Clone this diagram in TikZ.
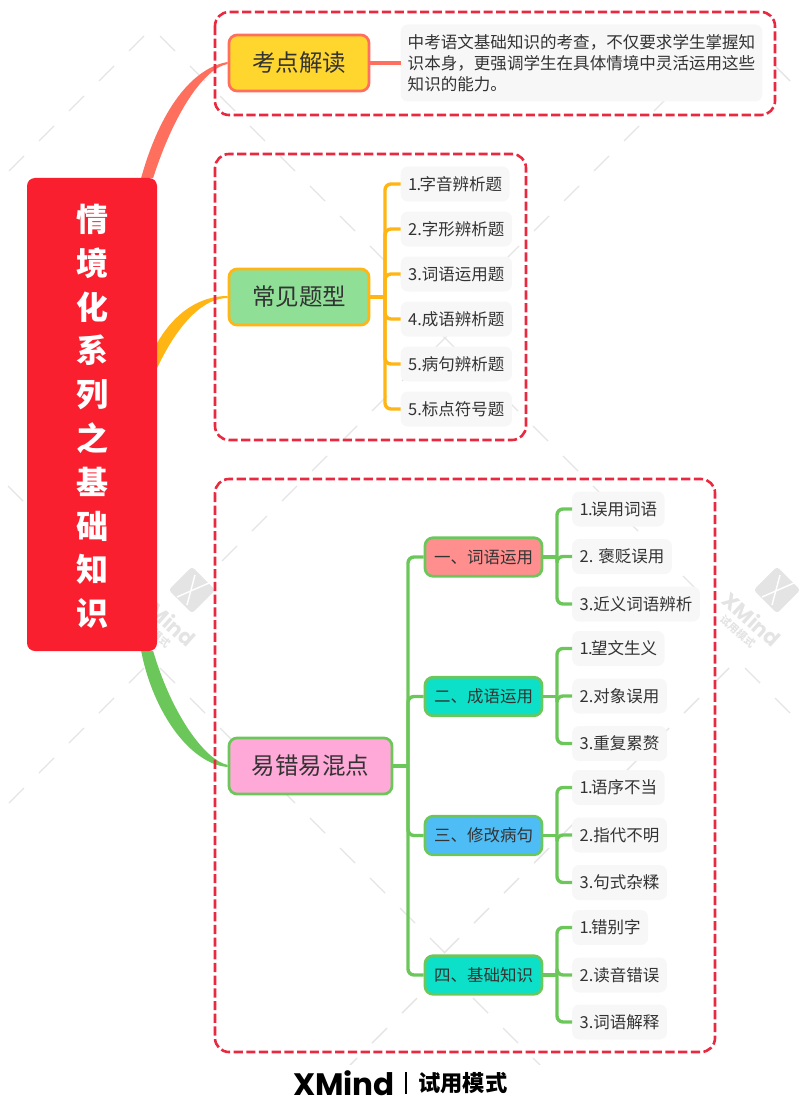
\documentclass[tikz,border=0pt]{standalone}
\usepackage{fontspec}
\setmainfont{Noto Sans CJK SC}
\newfontfamily\logofont{Poppins}
\usetikzlibrary{backgrounds,calc}
\definecolor{coralc}{HTML}{FF6F5E}
\definecolor{orangec}{HTML}{FFB514}
\definecolor{greenc}{HTML}{6CC75A}
\definecolor{framec}{HTML}{E9293F}
\definecolor{rootc}{HTML}{F91F2E}
\definecolor{inkc}{HTML}{333333}
\definecolor{wmc}{HTML}{E4E4E4}
\definecolor{leafc}{HTML}{F7F7F7}
\definecolor{yellowc}{HTML}{FFD62E}
\definecolor{mintc}{HTML}{8FDF97}
\definecolor{pinkc}{HTML}{FFA9D8}
\definecolor{salmonc}{HTML}{FF8E8E}
\definecolor{tealc}{HTML}{0CE0C8}
\definecolor{bluec}{HTML}{4FBDF5}
\newcommand{\onedot}{1\kern-0.8pt.\kern-1.6pt}
\tikzset{
  x=1pt,y=-1pt,
  wmline/.style={draw=wmc,line width=1.4pt},
  frameline/.style={draw=framec,line width=2.6pt,rounded corners=14pt,dash pattern=on 9.2pt off 3.5pt},
  mainnode/.style={rounded corners=8pt,line width=2.7pt,minimum height=56pt,text=inkc,font=\fontsize{23.5}{28}\selectfont,inner sep=0pt},
  subnode/.style={draw=greenc,rounded corners=8pt,line width=2.7pt,minimum width=117pt,minimum height=38.5pt,text=inkc,font=\fontsize{16.5}{20}\selectfont,inner sep=0pt},
  leafnode/.style={fill=leafc,rounded corners=7pt,minimum height=35pt,anchor=west,inner xsep=7.5pt,inner ysep=0pt,text=inkc,font=\fontsize{16.5}{20}\selectfont},
  orangelink/.style={draw=orangec,line width=3.4pt,rounded corners=6pt},
  greenlink/.style={draw=greenc,line width=3.4pt,rounded corners=6pt},
  coralink/.style={draw=coralc,line width=3.4pt},
}
\newcommand{\wmarm}[6]{% apex x, apex y, dir x, dir y, first offset, count
  \foreach \k in {1,...,#6}{
    \draw[wmline] ({#1+#3*(#5+30*(\k-1))},{#2+#4*(#5+30*(\k-1))}) -- ++({#3*15},{#4*15});
  }}
\newcommand{\wmlogo}[2]{%
  \node[fill=wmc,rounded corners=3pt,rotate=45,minimum size=33pt,inner sep=0pt] at (#1,#2) {};
  \draw[white,line width=1.4pt] (#1-15,#2+7) -- (#1+17,#2-7);
  \draw[white,line width=1.4pt] (#1+3,#2-15) -- (#1-5,#2+15);
  \node[text=wmc,rotate=-42,font=\logofont\bfseries\fontsize{21}{24}\selectfont,inner sep=0pt] at (#1-25,#2+29) {XMind};
  \node[text=wmc,rotate=-42,font=\bfseries\fontsize{10.5}{12}\selectfont,inner sep=0pt] at (#1-39,#2+42) {试用模式};
}
\begin{document}
\begin{tikzpicture}
\useasboundingbox (0,0) rectangle (800,1110);
% root
\node[fill=rootc,rounded corners=8pt,minimum width=130pt,minimum height=473pt,inner sep=0pt,text=white,align=center,font=\bfseries\fontsize{32}{43.8}\selectfont] (root) at (92,414.5) {\rule{0pt}{31pt}情\\境\\化\\系\\列\\之\\基\\础\\知\\识};
% main topics
\node[mainnode,draw=coralc,fill=yellowc,minimum width=140pt] (t1) at (299,63) {考点解读};
\node[mainnode,draw=orangec,fill=mintc,minimum width=140pt] (t2) at (299,297) {常见题型};
\node[mainnode,draw=greenc,fill=pinkc,minimum width=163pt] (t3) at (310.5,766) {易错易混点};
% topic 1 text
\node[fill=leafc,rounded corners=7pt,anchor=west,minimum width=360pt,minimum height=77pt,inner xsep=7pt,inner ysep=0pt,text=inkc,align=left,font=\fontsize{16.55}{21}\selectfont] (l0) at (400.5,63) {中考语文基础知识的考查，不仅要求学生掌握知\\识本身，更强调学生在具体情境中灵活运用这些\\知识的能力。};
% topic 2 leaves
\node[leafnode] (a1) at (400.5,184) {\onedot 字音辨析题};
\node[leafnode] (a2) at (400.5,229) {2.字形辨析题};
\node[leafnode] (a3) at (400.5,274) {3.词语运用题};
\node[leafnode] (a4) at (400.5,319) {4.成语辨析题};
\node[leafnode] (a5) at (400.5,364) {5.病句辨析题};
\node[leafnode] (a6) at (400.5,409) {5.标点符号题};
% topic 3 subtopics
\node[subnode,fill=salmonc] (b1) at (483.5,557) {一、词语运用};
\node[subnode,fill=tealc] (b2) at (483.5,696.5) {二、成语运用};
\node[subnode,fill=bluec] (b3) at (483.5,835.5) {三、修改病句};
\node[subnode,fill=tealc] (b4) at (483.5,975) {四、基础知识};
% topic 3 leaves
\node[leafnode] (c1) at (572,509) {\onedot 误用词语};
\node[leafnode] (c2) at (572,556.5) {2. 褒贬误用};
\node[leafnode] (c3) at (572,604) {3.近义词语辨析};
\node[leafnode] (d1) at (572,648.5) {\onedot 望文生义};
\node[leafnode] (d2) at (572,696) {2.对象误用};
\node[leafnode] (d3) at (572,743.5) {3.重复累赘};
\node[leafnode] (e1) at (572,787.5) {\onedot 语序不当};
\node[leafnode] (e2) at (572,835) {2.指代不明};
\node[leafnode] (e3) at (572,882.5) {3.句式杂糅};
\node[leafnode] (f1) at (572,927.5) {\onedot 错别字};
\node[leafnode] (f2) at (572,975) {2.读音错误};
\node[leafnode] (f3) at (572,1022) {3.词语解释};
% hubs
\coordinate (s2) at (385,297);
\coordinate (s3) at (408,766);
\coordinate (gb) at (557,557);
\coordinate (gc) at (557,696.5);
\coordinate (gd) at (557,835.5);
\coordinate (ge) at (557,975);
% connectors
\draw[coralink] (t1.east) -- (l0.west);
\draw[orangelink] (t2.east) -- (s2);
\foreach \n in {a1,a2,a3,a4,a5,a6} \draw[orangelink] (s2) |- (\n.west);
\draw[greenlink] (t3.east) -- (s3);
\foreach \n in {b1,b2,b3,b4} \draw[greenlink] (s3) |- (\n.west);
\draw[greenlink] (b1.east) -- (gb);
\foreach \n in {c1,c2,c3} \draw[greenlink] (gb) |- (\n.west);
\draw[greenlink] (b2.east) -- (gc);
\foreach \n in {d1,d2,d3} \draw[greenlink] (gc) |- (\n.west);
\draw[greenlink] (b3.east) -- (gd);
\foreach \n in {e1,e2,e3} \draw[greenlink] (gd) |- (\n.west);
\draw[greenlink] (b4.east) -- (ge);
\foreach \n in {f1,f2,f3} \draw[greenlink] (ge) |- (\n.west);
% footer
\node[anchor=west,inner sep=0pt,font=\logofont\bfseries\fontsize{31}{34}\selectfont,text=black] (brand) at (293,1083) {XMind};
\node[anchor=west,inner sep=0pt,font=\bfseries\fontsize{22.3}{26}\selectfont,text=black] (mode) at (418,1083) {试用模式};
\draw[black,line width=1.3pt] (406,1072) -- (406,1094);
% lower layers
\begin{scope}[on background layer]
  \begin{scope}
    \clip (0,0) rectangle (800,1064);
    \wmarm{152}{28}{-1}{1}{8}{5}
    \wmarm{152}{28}{1}{1}{8}{10}
    \wmarm{737}{28}{-1}{1}{8}{10}
    \wmarm{737}{28}{1}{1}{8}{3}
    \wmarm{445}{338}{-1}{1}{-2}{8}
    \wmarm{445}{338}{1}{1}{-2}{9}
    \wmarm{-140}{338}{1}{1}{-2}{6}
    \wmarm{152}{660}{-1}{1}{8}{5}
    \wmarm{152}{660}{1}{1}{8}{10}
    \wmarm{737}{660}{-1}{1}{8}{10}
    \wmarm{737}{660}{1}{1}{8}{3}
    \wmarm{445}{970}{-1}{1}{-2}{4}
    \wmarm{445}{970}{1}{1}{-2}{4}
    \wmlogo{192}{590}
    \wmlogo{777}{590}
  \end{scope}
  \fill[coralc] ([xshift=-16pt]root.north east) .. controls (160,110) and (192,68) .. ([yshift=1pt]t1.west) -- ([yshift=-1pt]t1.west) .. controls (205,68) and (175,110) .. ([xshift=-4pt]root.north east) -- cycle;
  \fill[orangec] ([yshift=-165pt]root.north east) .. controls (175,312) and (200,296) .. ([yshift=1pt]t2.west) -- ([yshift=-1pt]t2.west) .. controls (205,298) and (180,320) .. ([yshift=-190pt]root.north east) -- cycle;
  \fill[greenc] ([xshift=-16pt]root.south east) .. controls (153,712) and (190,764) .. ([yshift=-1pt]t3.west) -- ([yshift=1pt]t3.west) .. controls (205,760) and (172,715) .. ([xshift=-4pt]root.south east) -- cycle;
  \draw[frameline] (215,12) rectangle (775,115);
  \draw[frameline] (215,154) rectangle (526,440);
  \draw[frameline] (215,479) rectangle (715,1052);
\end{scope}
\end{tikzpicture}
\end{document}
